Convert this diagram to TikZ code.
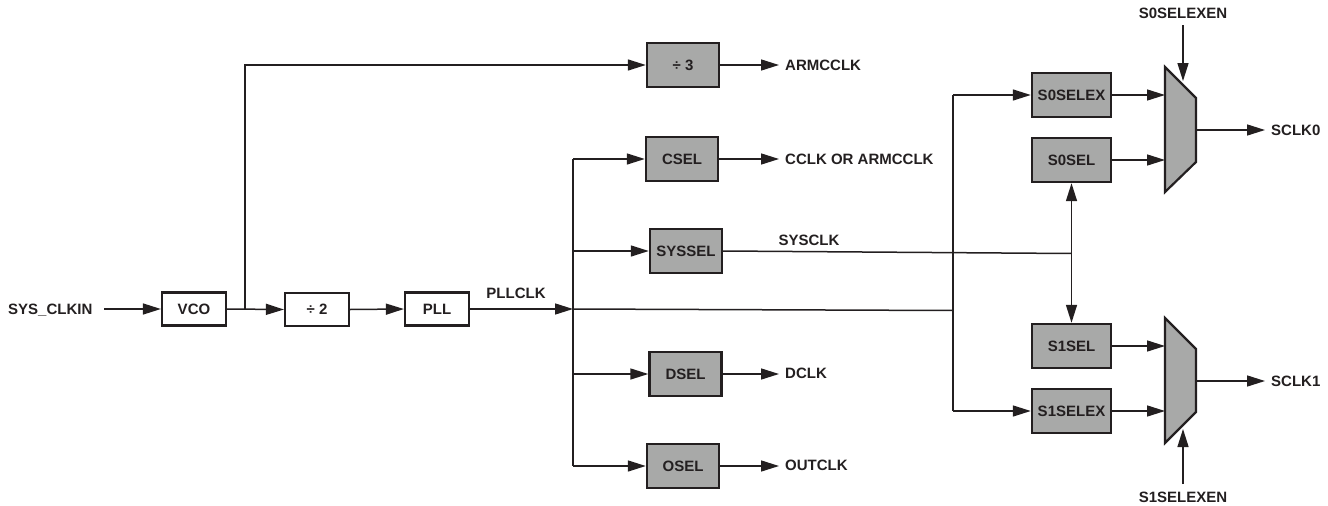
\documentclass[tikz,border=0pt]{standalone}
\usepackage{fontspec}
\setmainfont{Liberation Sans}
\usetikzlibrary{arrows.meta}
\definecolor{ink}{RGB}{35,31,32}
\definecolor{boxgray}{RGB}{168,169,168}
\tikzset{
  lbl/.style={font=\fontsize{15}{18}\bfseries\selectfont, text=ink, inner sep=0pt},
  wbox/.style={draw=ink, line width=2.2pt, fill=white, minimum width=64pt, minimum height=33pt, inner sep=2pt, font=\fontsize{15}{18}\bfseries\selectfont, text=ink},
  gbox/.style={draw=ink, line width=2.4pt, fill=boxgray, minimum width=72pt, minimum height=44pt, inner sep=2pt, font=\fontsize{15}{18}\bfseries\selectfont, text=ink},
  sbox/.style={gbox, minimum width=79pt},
  wire/.style={draw=ink, line width=1.5pt},
  arr/.style={wire, -{Triangle[length=18pt,width=11pt]}},
  mux/.style={draw=ink, line width=2.2pt, fill=boxgray, line join=miter},
}
\begin{document}
\begin{tikzpicture}[x=1pt,y=-1pt]
\useasboundingbox (0,0) rectangle (1328,506);

% left chain
\node[lbl, anchor=west] (sysclkin) at (8,310) {SYS\_CLKIN};
\coordinate (inS) at (104,309);
\node[wbox] (vco) at (194,309) {VCO};
\node[wbox] (div2) at (317,309.5) {÷ 2};
\node[wbox] (pll) at (437,309) {PLL};
\node[gbox] (div3) at (683,65) {÷ 3};

\draw[arr] (inS) -- (vco.west);
\draw[arr] (vco.east) -- (div2.west);
\coordinate (tap) at (245,309);
\draw[arr] (tap) -- (tap |- div3.west) -- (div3.west);
\draw[arr] (div2.east) -- (pll.west);

\node[lbl, anchor=west] (armcclk) at (785,65) {ARMCCLK};
\coordinate (armtip) at (779,65);
\draw[arr] (div3.east) -- (armtip);

% PLLCLK bus
\coordinate (busjoin) at (573,309);
\draw[arr] (pll.east) -- (busjoin);
\node[lbl] (pllclk) at (516,293) {PLLCLK};

\node[gbox] (csel) at (682,159) {CSEL};
\node[gbox] (syssel) at (686,251) {SYSSEL};
\node[gbox] (dsel) at (685.5,374) {DSEL};
\node[gbox] (osel) at (683,466) {OSEL};

\coordinate (busT) at (573,159);
\coordinate (busB) at (573,466);
\draw[wire] (busT) -- (busB);
\draw[arr] (busT) -- (csel.west);
\draw[arr] (busT |- syssel.west) -- (syssel.west);
\draw[arr] (busT |- dsel.west) -- (dsel.west);
\draw[arr] (busB) -- (osel.west);

% outputs
\coordinate (ctip) at (779,159);
\coordinate (dtip) at (779,374);
\coordinate (otip) at (779,466);
\draw[arr] (csel.east) -- (ctip);
\draw[arr] (dsel.east) -- (dtip);
\draw[arr] (osel.east) -- (otip);
\node[lbl, anchor=west] (cclk) at (785,159) {CCLK OR ARMCCLK};
\node[lbl, anchor=west] (dclk) at (785,373) {DCLK};
\node[lbl, anchor=west] (outclk) at (785,465) {OUTCLK};
\node[lbl] (sysclk) at (809,240) {SYSCLK};

% right side boxes
\node[sbox] (s0selex) at (1071.5,95) {S0SELEX};
\node[sbox] (s0sel) at (1071.5,160) {S0SEL};
\node[sbox] (s1sel) at (1071.5,346) {S1SEL};
\node[sbox] (s1selex) at (1071.5,411) {S1SELEX};

% PLLCLK to right bus
\coordinate (rbus) at (953,310.5);
\draw[wire] (busjoin) -- (rbus);
\coordinate (rbusT) at (953,95);
\coordinate (rbusB) at (953,411);
\draw[wire] (rbusT) -- (rbusB);
\draw[arr] (rbusT) -- (s0selex.west);
\draw[arr] (rbusB) -- (s1selex.west);

% SYSCLK
\coordinate (sysj) at (1071.5,253.5);
\draw[wire] (syssel.east) -- (sysj);
\draw[arr] (sysj) -- (s0sel.south);
\draw[arr] (sysj) -- (s1sel.north);

% muxes
\draw[mux] (1165,67) -- (1196,98) -- (1196,162) -- (1165,192) -- cycle;
\draw[mux] (1165,318) -- (1196,349) -- (1196,412) -- (1165,443) -- cycle;
\coordinate (m0a) at (1165,95);
\coordinate (m0b) at (1165,160);
\coordinate (m1a) at (1165,346);
\coordinate (m1b) at (1165,411);
\draw[arr] (s0selex.east) -- (m0a);
\draw[arr] (s0sel.east) -- (m0b);
\draw[arr] (s1sel.east) -- (m1a);
\draw[arr] (s1selex.east) -- (m1b);

\coordinate (m0out) at (1196,130);
\coordinate (m0tip) at (1265,130);
\coordinate (m1out) at (1196,381);
\coordinate (m1tip) at (1265,381);
\draw[arr] (m0out) -- (m0tip);
\draw[arr] (m1out) -- (m1tip);
\node[lbl, anchor=west] (sclk0) at (1271,130) {SCLK0};
\node[lbl, anchor=west] (sclk1) at (1271,381) {SCLK1};

\node[lbl] (s0en) at (1183,13) {S0SELEXEN};
\node[lbl] (s1en) at (1183,497) {S1SELEXEN};
\coordinate (s0enS) at (1183,25);
\coordinate (s0enT) at (1183,81);
\coordinate (s1enS) at (1183,484);
\coordinate (s1enT) at (1183,429);
\draw[arr] (s0enS) -- (s0enT);
\draw[arr] (s1enS) -- (s1enT);
\end{tikzpicture}
\end{document}
